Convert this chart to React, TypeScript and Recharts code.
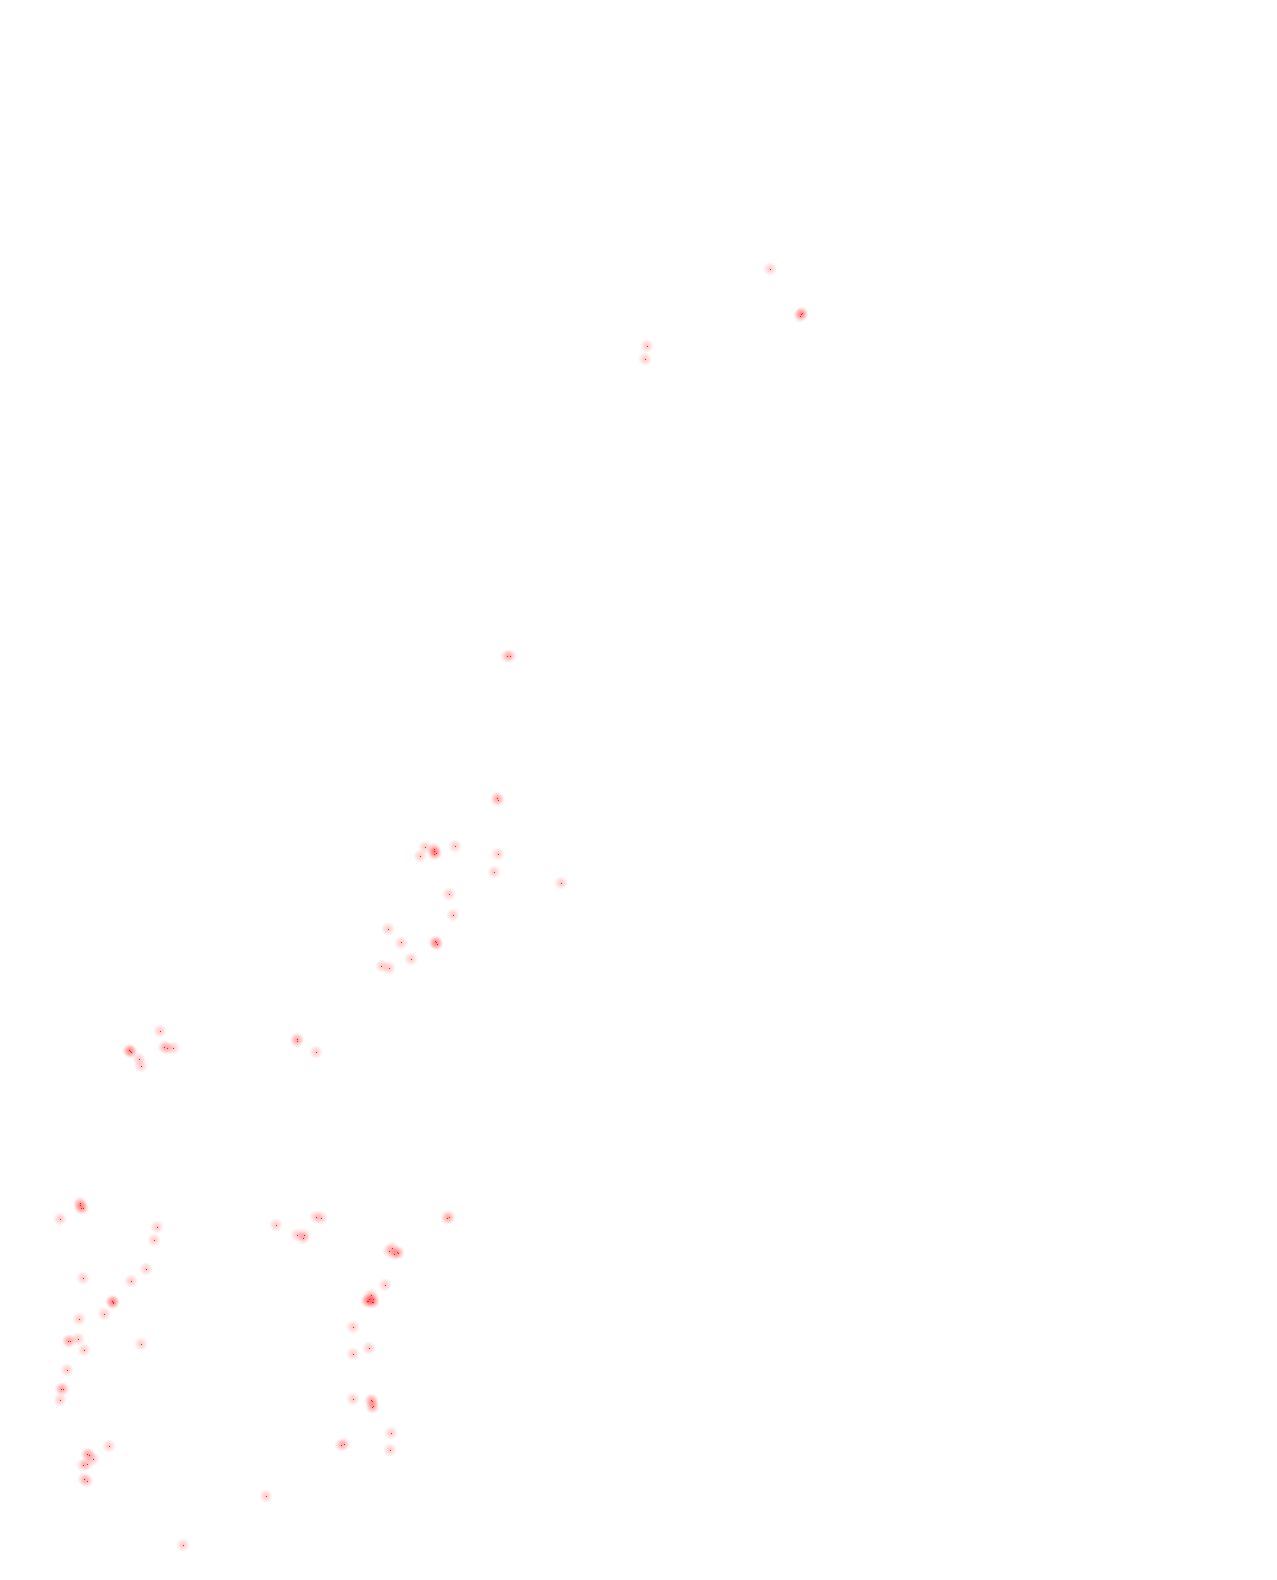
import { ScatterChart, Scatter, XAxis, YAxis } from 'recharts';

// point positions (x across, y down)
const northPoints: [number, number][] = [
  [770, 269], [801, 314], [802, 313], [800, 316], [647, 346], [645, 359],
];

const centralPoints: [number, number][] = [
  [507, 656], [510, 656], [497, 798], [498, 800], [425, 847], [420, 856],
  [434, 849], [434, 851], [436, 853], [434, 854], [455, 846], [498, 854],
  [494, 872], [561, 883], [449, 894], [453, 915], [388, 929], [401, 943],
  [435, 942], [436, 943], [437, 944], [411, 959], [382, 966], [389, 968],
];

const westPoints: [number, number][] = [
  [160, 1031], [129, 1050], [130, 1051], [131, 1052], [139, 1059], [141, 1066],
  [164, 1047], [167, 1048], [173, 1048], [297, 1039], [297, 1041], [316, 1052],
];

const southWestPoints: [number, number][] = [
  [80, 1203], [80, 1205], [81, 1208], [83, 1208], [60, 1219], [157, 1227],
  [154, 1240], [146, 1269], [83, 1278], [131, 1281], [112, 1301], [113, 1302],
  [113, 1303], [104, 1314], [79, 1319], [68, 1341], [70, 1341], [78, 1339],
  [84, 1350], [141, 1344], [67, 1370], [61, 1389], [63, 1389], [60, 1400],
  [109, 1446], [87, 1454], [89, 1455], [93, 1459], [83, 1465], [87, 1464],
  [84, 1479], [87, 1481], [266, 1496], [183, 1545],
];

const southPoints: [number, number][] = [
  [276, 1225], [316, 1217], [321, 1218], [297, 1235], [304, 1235], [303, 1238],
  [449, 1217], [447, 1218], [392, 1248], [389, 1251], [394, 1254], [397, 1252],
  [398, 1253], [385, 1285], [371, 1295], [369, 1299], [367, 1301], [373, 1299],
  [372, 1302], [373, 1302], [368, 1301], [353, 1327], [369, 1348], [353, 1354],
  [353, 1399], [371, 1400], [372, 1401], [373, 1406], [372, 1407], [391, 1433],
  [341, 1445], [344, 1444], [390, 1450],
];

const allPoints = [...northPoints, ...centralPoints, ...westPoints, ...southWestPoints, ...southPoints];
const data = allPoints.map(([x, y]) => ({ x, y }));

const GlowDot = (props: any) => {
  const { cx, cy } = props;
  if (cx == null || cy == null) return null;
  return (
    <g>
      <defs>
        <radialGradient id="glow">
          <stop offset="0%" stopColor="#ff0000" stopOpacity={0.22} />
          <stop offset="45%" stopColor="#ff0000" stopOpacity={0.13} />
          <stop offset="100%" stopColor="#ff0000" stopOpacity={0} />
        </radialGradient>
      </defs>
      <circle cx={cx} cy={cy} r={7} fill="url(#glow)" />
      <rect x={Math.floor(cx)} y={Math.floor(cy)} width={1} height={1} fill="#ff1a1a" shapeRendering="crispEdges" />
    </g>
  );
};

export default function App() {
  return (
    <div style={{ position: 'absolute', left: 0, top: 0, width: 1277, height: 1580, background: '#fff' }}>
      <ScatterChart width={1277} height={1580} margin={{ top: 0, right: 0, bottom: 0, left: 0 }}>
        <XAxis type="number" dataKey="x" domain={[0, 1277]} hide />
        <YAxis type="number" dataKey="y" domain={[0, 1580]} reversed hide />
        <Scatter data={data} shape={GlowDot} isAnimationActive={false} />
      </ScatterChart>
    </div>
  );
}
